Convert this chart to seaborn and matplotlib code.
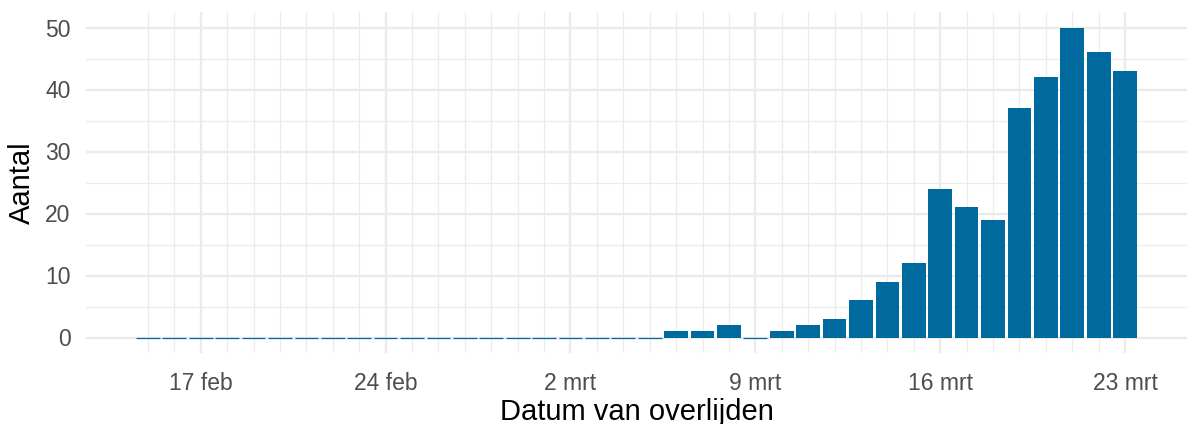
import datetime as dt

import matplotlib
matplotlib.use("Agg")
import matplotlib.dates as mdates
import matplotlib.pyplot as plt
import pandas as pd
import seaborn as sns

# Dagen van overlijden (15 feb t/m 23 mrt 2020)
start = dt.date(2020, 2, 15)
aantal = [0, 0, 0, 0, 0, 0, 0, 0, 0, 0, 0, 0, 0, 0, 0,   # 15-29 feb
          0, 0, 0, 0, 0, 1, 1, 2, 0, 1, 2, 3, 6, 9, 12,    # 1-15 mrt
          24, 21, 19, 37, 42, 50, 46, 43]                  # 16-23 mrt
datums = [start + dt.timedelta(days=i) for i in range(len(aantal))]

tick_datums = [dt.date(2020, 2, 17), dt.date(2020, 2, 24), dt.date(2020, 3, 2),
               dt.date(2020, 3, 9), dt.date(2020, 3, 16), dt.date(2020, 3, 23)]
tick_labels = ["17 feb", "24 feb", "2 mrt", "9 mrt", "16 mrt", "23 mrt"]
y_ticks = [0, 10, 20, 30, 40, 50]

df = pd.DataFrame({"datum": mdates.date2num(datums), "aantal": aantal})

sns.set_theme(style="white")
plt.rcParams["font.family"] = ["Liberation Sans", "DejaVu Sans"]

bar_kleur = "#00699D"
grid_kleur = "#EBEBEB"

fig = plt.figure(figsize=(11.87, 4.24), dpi=100)
ax = fig.add_axes([86 / 1187, 1 - 353 / 424, 1 - 86 / 1187, 341 / 424])

sns.barplot(data=df, x="datum", y="aantal", native_scale=True, width=0.9,
            color=bar_kleur, saturation=1, ax=ax, zorder=3)

# nul-staven als dunne lijn tonen, zoals in het origineel
for p in ax.patches:
    if p.get_height() == 0:
        p.set_edgecolor(bar_kleur)
        p.set_linewidth(0.9)
    else:
        p.set_linewidth(0)

x0 = mdates.date2num(datums[0]) - 0.45
x1 = mdates.date2num(datums[-1]) + 0.45
ext = (x1 - x0) * 0.05
ax.set_xlim(x0 - ext, x1 + ext)
ax.set_ylim(-2.5, 52.5)

ax.set_xticks(mdates.date2num(tick_datums))
ax.set_xticklabels(tick_labels)
ax.set_xticks(df["datum"], minor=True)
ax.set_yticks(y_ticks)
ax.set_yticks([5, 15, 25, 35, 45], minor=True)

ax.grid(which="major", color=grid_kleur, linewidth=1.7, zorder=0)
ax.grid(which="minor", color=grid_kleur, linewidth=0.9, zorder=0)
ax.set_axisbelow(True)

for s in ax.spines.values():
    s.set_visible(False)
ax.tick_params(which="both", length=0)
ax.tick_params(axis="x", labelsize=16.5, labelcolor="#4D4D4D", pad=14)
ax.tick_params(axis="y", labelsize=16.5, labelcolor="#4D4D4D", pad=11)

ax.set_xlabel("Datum van overlijden", fontsize=21, color="black", labelpad=1.5)
ax.set_ylabel("Aantal", fontsize=21, color="black", labelpad=6.5)

fig.savefig("out.png", dpi=100)
